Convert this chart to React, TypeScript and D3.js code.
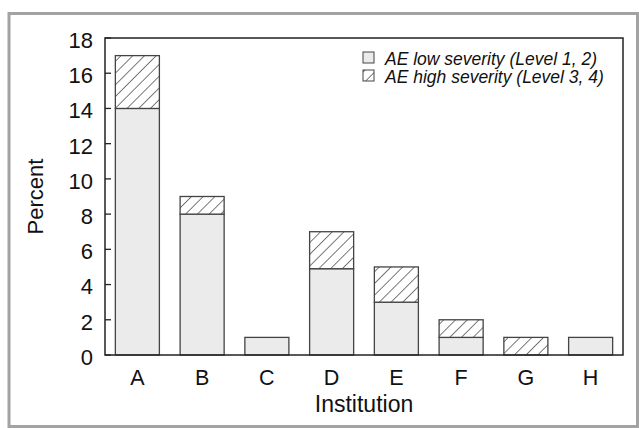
import React from "react";
import * as d3 from "d3";

const categories = ["A", "B", "C", "D", "E", "F", "G", "H"];
const lowSeverity = [14, 8, 1, 4.9, 3, 1, 0, 1];
const highSeverity = [3, 1, 0, 2.1, 2, 1, 1, 0];
const yTicks = [0, 2, 4, 6, 8, 10, 12, 14, 16, 18];
const legendLabels = ["AE low severity (Level 1, 2)", "AE high severity (Level 3, 4)"];

const W = 639;
const H = 428;
const margin = { left: 105, right: 16, top: 38, bottom: 73 };
const FONT = "'Liberation Sans', Arial, Helvetica, sans-serif";

export default function App() {
  const x = d3
    .scaleBand<string>()
    .domain(categories)
    .range([margin.left, W - margin.right])
    .paddingInner(0.32)
    .paddingOuter(0.16);
  const y = d3.scaleLinear().domain([0, 18]).range([H - margin.bottom, margin.top]);

  const stacked = categories.map((c, i) => ({
    c,
    low: lowSeverity[i],
    high: highSeverity[i],
  }));

  const x0 = margin.left;
  const x1 = W - margin.right;
  const y0 = y(0);
  const yTop = y(18);

  return (
    <div style={{ position: "fixed", left: 0, top: 0 }}>
      <svg width={W} height={H} style={{ display: "block", fontFamily: FONT }}>
        <defs>
          <pattern id="hatch" patternUnits="userSpaceOnUse" width="8.3" height="8.3" patternTransform="rotate(45)">
            <rect width="8.3" height="8.3" fill="#ffffff" />
            <line x1="0" y1="0" x2="0" y2="8.3" stroke="#333" strokeWidth="1.3" />
          </pattern>
        </defs>
        <rect x={0} y={0} width={W} height={H} fill="#ffffff" />
        {/* outer frame */}
        <rect x={9} y={13.5} width={628.5} height={413} fill="none" stroke="#a3a3a3" strokeWidth={3} />

        {/* bars */}
        {stacked.map((d) => (
          <g key={d.c}>
            {d.low > 0 && (
              <rect
                x={x(d.c)}
                y={y(d.low)}
                width={x.bandwidth()}
                height={y(0) - y(d.low)}
                fill="#ebebeb"
                stroke="#444"
                strokeWidth={1.3}
              />
            )}
            {d.high > 0 && (
              <rect
                x={x(d.c)}
                y={y(d.low + d.high)}
                width={x.bandwidth()}
                height={y(d.low) - y(d.low + d.high)}
                fill="url(#hatch)"
                stroke="#444"
                strokeWidth={1.3}
              />
            )}
          </g>
        ))}

        {/* plot frame */}
        <rect x={x0} y={yTop} width={x1 - x0} height={y0 - yTop} fill="none" stroke="#222" strokeWidth={1.5} />

        {/* y ticks */}
        {yTicks.map((t) => (
          <g key={t}>
            <line x1={x0} x2={x0 + 6} y1={y(t)} y2={y(t)} stroke="#222" strokeWidth={1.3} />
            <text x={x0 - 12} y={y(t) + 2} dy="0.36em" textAnchor="end" fontSize={22} fill="#111">
              {t}
            </text>
          </g>
        ))}

        {/* x labels */}
        {categories.map((c) => (
          <text key={c} x={(x(c) as number) + x.bandwidth() / 2} y={385} textAnchor="middle" fontSize={21.5} fill="#111">
            {c}
          </text>
        ))}

        <text x={(x0 + x1) / 2} y={412} textAnchor="middle" fontSize={23} fill="#111">
          Institution
        </text>
        <text transform={`translate(43,${(y0 + yTop) / 2}) rotate(-90)`} textAnchor="middle" fontSize={22} fill="#111">
          Percent
        </text>

        {/* legend */}
        <g>
          <rect x={363} y={52} width={11} height={11} fill="#ebebeb" stroke="#444" strokeWidth={1} />
          <text x={385} y={64.5} fontSize={17.5} fontStyle="italic" fill="#111">
            {legendLabels[0]}
          </text>
          <rect x={363} y={70} width={11} height={11} fill="url(#hatch)" stroke="#444" strokeWidth={1} />
          <text x={385} y={83} fontSize={17.5} fontStyle="italic" fill="#111">
            {legendLabels[1]}
          </text>
        </g>
      </svg>
    </div>
  );
}
